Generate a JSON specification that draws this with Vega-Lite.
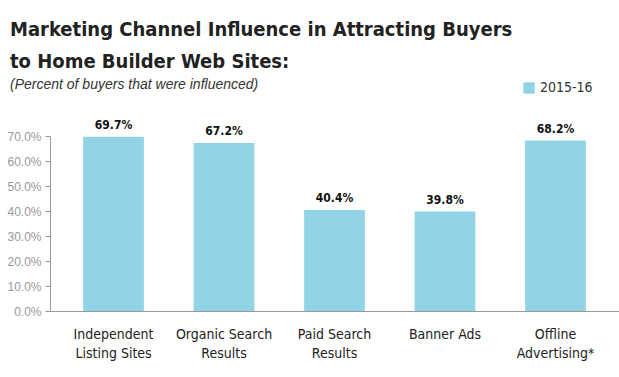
{
  "$schema": "https://vega.github.io/schema/vega-lite/v6.json",
  "width": 569,
  "height": 175,
  "autosize": {"type": "none"},
  "padding": {"left": 50, "top": 136, "right": 0, "bottom": 66},
  "background": "white",
  "config": {"view": {"stroke": null}},
  "title": {
    "text": ["Marketing Channel Influence in Attracting Buyers", "to Home Builder Web Sites:"],
    "subtitle": "(Percent of buyers that were influenced)",
    "anchor": "start",
    "frame": "group",
    "dx": -40,
    "offset": -11,
    "font": "DejaVu Sans Condensed, sans-serif",
    "fontSize": 20,
    "fontWeight": "bold",
    "color": "#222222",
    "lineHeight": 32,
    "subtitleFont": "Liberation Sans, Arial, sans-serif",
    "subtitleFontSize": 14,
    "subtitleFontStyle": "italic",
    "subtitleColor": "#333333",
    "subtitlePadding": 6
  },
  "data": {
    "values": [
      {"channel": "Independent Listing Sites", "year": "2015-16", "share": 0.697},
      {"channel": "Organic Search Results", "year": "2015-16", "share": 0.672},
      {"channel": "Paid Search Results", "year": "2015-16", "share": 0.404},
      {"channel": "Banner Ads", "year": "2015-16", "share": 0.398},
      {"channel": "Offline Advertising*", "year": "2015-16", "share": 0.682}
    ]
  },
  "encoding": {
    "x": {
      "field": "channel",
      "type": "nominal",
      "sort": null,
      "scale": {"paddingInner": 0.45, "paddingOuter": 0.3},
      "axis": {
        "title": null,
        "labelAngle": 0,
        "ticks": false,
        "domainColor": "#999999",
        "labelPadding": 16,
        "labelFont": "DejaVu Sans Condensed, sans-serif",
        "labelFontSize": 14,
        "labelColor": "#222222",
        "labelLineHeight": 19,
        "labelBaseline": "top",
        "labelExpr": "datum.label == 'Independent Listing Sites' ? ['Independent', 'Listing Sites'] : datum.label == 'Organic Search Results' ? ['Organic Search', 'Results'] : datum.label == 'Paid Search Results' ? ['Paid Search', 'Results'] : datum.label == 'Offline Advertising*' ? ['Offline', 'Advertising*'] : datum.label"
      }
    },
    "y": {
      "field": "share",
      "type": "quantitative",
      "scale": {"domain": [0, 0.7], "nice": false},
      "axis": {
        "title": null,
        "format": ".1%",
        "values": [0, 0.1, 0.2, 0.3, 0.4, 0.5, 0.6, 0.7],
        "grid": false,
        "domainColor": "#999999",
        "tickColor": "#999999",
        "tickSize": 5,
        "labelPadding": 4,
        "labelFont": "Liberation Sans, Arial, sans-serif",
        "labelFontSize": 12,
        "labelColor": "#999999"
      }
    }
  },
  "layer": [
    {
      "mark": {"type": "bar", "color": "#93D3E6"},
      "encoding": {
        "color": {
          "field": "year",
          "type": "nominal",
          "scale": {"range": ["#93D3E6"]},
          "legend": {
            "title": null,
            "orient": "none",
            "legendX": 472,
            "legendY": -55,
            "symbolType": "square",
            "symbolSize": 130,
            "symbolStrokeWidth": 0,
            "labelFont": "DejaVu Sans Condensed, sans-serif",
            "labelFontSize": 14,
            "labelColor": "#333333"
          }
        }
      }
    },
    {
      "mark": {
        "type": "text",
        "dy": -12,
        "font": "DejaVu Sans Condensed, sans-serif",
        "fontSize": 12,
        "fontWeight": "bold",
        "color": "#111111"
      },
      "encoding": {
        "text": {"field": "share", "type": "quantitative", "format": ".1%"}
      }
    }
  ]
}
